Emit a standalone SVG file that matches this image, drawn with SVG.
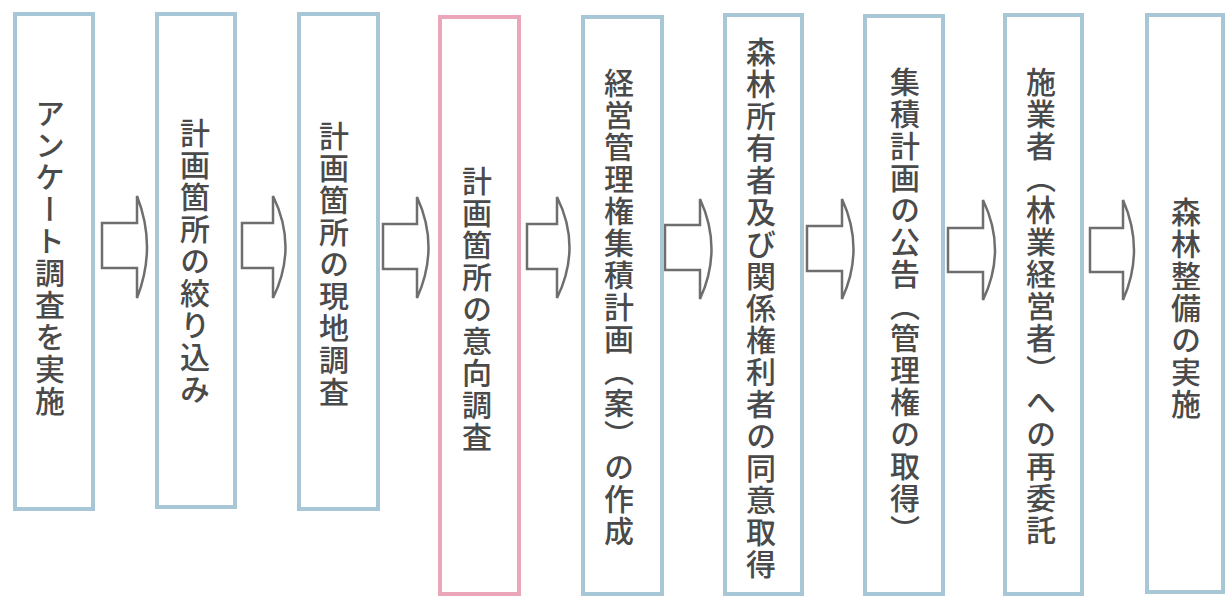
<svg xmlns="http://www.w3.org/2000/svg" width="1226" height="597" viewBox="0 0 1226 597">
<style>
.box{fill:#ffffff;stroke:#a7c6d6;stroke-width:4}
.pink{fill:#ffffff;stroke:#eba6b9;stroke-width:4}
.lbl{font-family:"Noto Sans CJK JP","Noto Sans CJK SC",sans-serif;font-size:30px;font-weight:500;letter-spacing:2px;fill:#4a4a4a;writing-mode:vertical-rl;text-anchor:middle}
.arr{fill:#ffffff;stroke:#6e6e6e;stroke-width:2.5;stroke-linejoin:miter}
</style>
<rect x="0" y="0" width="1226" height="597" fill="#ffffff"/>
<g id="connectors">
<path class="arr" d="M102,223 H137 V196 Q157,247 137,298 V268 H102 Z"/>
<path class="arr" d="M242,223 H273 V196 Q298,247 273,298 V268 H242 Z"/>
<path class="arr" d="M383,224 H417 V197 Q440,247 417,298 V269 H383 Z"/>
<path class="arr" d="M527,224 H557 V197 Q582,247 557,298 V269 H527 Z"/>
<path class="arr" d="M665,225 H700 V199 Q723,249 700,299 V270 H665 Z"/>
<path class="arr" d="M807,226 H842 V199 Q865,249 842,299 V271 H807 Z"/>
<path class="arr" d="M948,228 H983 V200 Q1007,250 983,300 V272 H948 Z"/>
<path class="arr" d="M1090,228 H1123 V200 Q1145,250 1123,300 V272 H1090 Z"/>
</g>
<g id="n1"><rect class="box" x="15" y="14" width="78" height="495"/><text class="lbl" x="50" y="258">アンケート調査を実施</text></g>
<g id="n2"><rect class="box" x="157" y="14" width="78" height="493"/><text class="lbl" x="195" y="262">計画箇所の絞り込み</text></g>
<g id="n3"><rect class="box" x="299" y="14" width="79" height="495"/><text class="lbl" x="334" y="265">計画箇所の現地調査</text></g>
<g id="n4"><rect class="pink" x="440" y="17" width="79" height="577"/><text class="lbl" x="477" y="310">計画箇所の意向調査</text></g>
<g id="n5"><rect class="box" x="583" y="17" width="79" height="577"/><text class="lbl" x="619" y="308">経営管理権集積計画（案）の作成</text></g>
<g id="n6"><rect class="box" x="725" y="15" width="77" height="579"/><text class="lbl" x="761" y="309">森林所有者及び関係権利者の同意取得</text></g>
<g id="n7"><rect class="box" x="865" y="16" width="78" height="578"/><text class="lbl" x="905" y="307">集積計画の公告（管理権の取得）</text></g>
<g id="n8"><rect class="box" x="1005" y="15" width="77" height="579"/><text class="lbl" x="1041" y="307">施業者（林業経営者）への再委託</text></g>
<g id="n9"><rect class="box" x="1147" y="15" width="76" height="577"/><text class="lbl" x="1186" y="309">森林整備の実施</text></g>
</svg>
